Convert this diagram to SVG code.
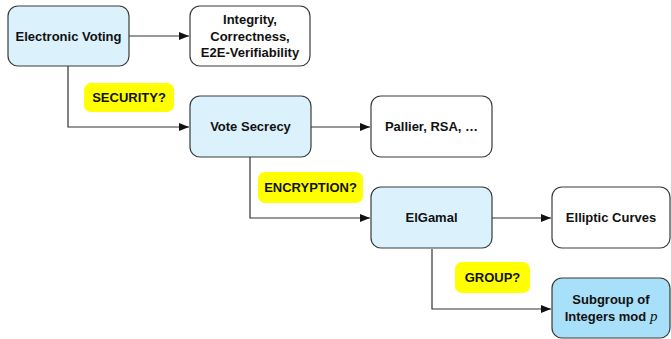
<svg xmlns="http://www.w3.org/2000/svg" width="671" height="339" viewBox="0 0 671 339">
  <style>
    .box { stroke: #3a3a3a; stroke-width: 1.2; }
    .plain { fill: #ffffff; }
    .light { fill: #dbf2fd; }
    .dark { fill: #a8e0f9; }
    .tag { fill: #ffff00; stroke: none; }
    .lbl { font-family: "Liberation Sans", Arial, sans-serif; font-weight: bold; font-size: 13px; fill: #111; text-anchor: middle; }
    .math { font-family: "Liberation Serif", "Times New Roman", serif; font-style: italic; font-weight: normal; }
    .edge { fill: none; stroke: #333; stroke-width: 1.2; marker-end: url(#arrow); }
  </style>
  <defs>
    <marker id="arrow" viewBox="0 0 10 10" refX="10" refY="5" markerWidth="10" markerHeight="10" markerUnits="userSpaceOnUse" orient="auto">
      <path d="M0,1 L10,5 L0,9 z" fill="#111"/>
    </marker>
  </defs>

  <g id="connectors">
    <path class="edge" d="M129,36 H189"/>
    <path class="edge" d="M68,66 V127 H189"/>
    <path class="edge" d="M311,127 H370"/>
    <path class="edge" d="M250,157 V218 H370"/>
    <path class="edge" d="M492,218 H551"/>
    <path class="edge" d="M432,249 V309 H551"/>
  </g>

  <g id="electronic-voting">
    <rect class="box light" x="8" y="6" width="121" height="60" rx="10"/>
    <text class="lbl" x="68.5" y="40.5">Electronic Voting</text>
  </g>

  <g id="integrity">
    <rect class="box plain" x="190" y="6" width="120" height="60" rx="10"/>
    <text class="lbl" x="250" y="24">Integrity,</text>
    <text class="lbl" x="250" y="40.5">Correctness,</text>
    <text class="lbl" x="250" y="57">E2E-Verifiability</text>
  </g>

  <g id="security-tag">
    <rect class="tag" x="84" y="83" width="90" height="29" rx="7"/>
    <text class="lbl" x="129" y="102">SECURITY?</text>
  </g>

  <g id="vote-secrecy">
    <rect class="box light" x="190" y="96" width="121" height="61" rx="10"/>
    <text class="lbl" x="250.5" y="131">Vote Secrecy</text>
  </g>

  <g id="pallier">
    <rect class="box plain" x="371" y="96" width="121" height="61" rx="10"/>
    <text class="lbl" x="431.5" y="131">Pallier, RSA, …</text>
  </g>

  <g id="encryption-tag">
    <rect class="tag" x="258" y="172" width="105" height="31" rx="7"/>
    <text class="lbl" x="310.5" y="192">ENCRYPTION?</text>
  </g>

  <g id="elgamal">
    <rect class="box light" x="371" y="187" width="121" height="61" rx="10"/>
    <text class="lbl" x="431.5" y="222">ElGamal</text>
  </g>

  <g id="elliptic-curves">
    <rect class="box plain" x="552" y="187" width="118" height="61" rx="10"/>
    <text class="lbl" x="611" y="222">Elliptic Curves</text>
  </g>

  <g id="group-tag">
    <rect class="tag" x="455" y="262" width="75" height="31" rx="7"/>
    <text class="lbl" x="492.5" y="282">GROUP?</text>
  </g>

  <g id="subgroup">
    <rect class="box dark" x="552" y="278" width="118" height="60" rx="10"/>
    <text class="lbl" x="611" y="304">Subgroup of</text>
    <text class="lbl" x="611" y="320.5">Integers mod <tspan class="math" font-size="15">p</tspan></text>
  </g>
</svg>
